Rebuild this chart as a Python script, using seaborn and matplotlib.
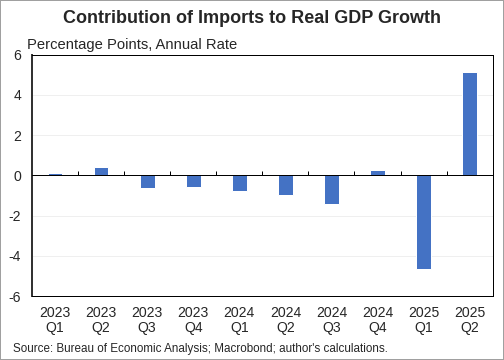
import matplotlib
matplotlib.use("Agg")
import matplotlib.pyplot as plt
import seaborn as sns
import pandas as pd
from matplotlib.patches import Rectangle

quarters = ["2023\nQ1", "2023\nQ2", "2023\nQ3", "2023\nQ4", "2024\nQ1",
            "2024\nQ2", "2024\nQ3", "2024\nQ4", "2025\nQ1", "2025\nQ2"]
values = [0.10, 0.40, -0.62, -0.57, -0.80, -1.00, -1.44, 0.25, -4.67, 5.13]
yticks = [-6, -4, -2, 0, 2, 4, 6]

df = pd.DataFrame({"quarter": quarters, "value": values})

sns.set_style("white")
plt.rcParams["font.family"] = ["Liberation Sans", "DejaVu Sans"]

fig = plt.figure(figsize=(7, 5), dpi=72)
ax = fig.add_axes([32/504, 1-296/360, (492.7-32)/504, (296-54.7)/360])

sns.barplot(data=df, x="quarter", y="value", color="#4472C4", width=0.32,
            saturation=1, ax=ax, zorder=3)

ax.set_ylim(-6, 6)
ax.set_xlim(-0.5, len(quarters) - 0.5)
ax.set_yticks(yticks)
ax.set_yticklabels([str(v) for v in yticks], fontsize=14)
ax.tick_params(axis="y", length=0, pad=11)
ax.tick_params(axis="x", length=0, pad=10, labelsize=14)
for lbl in ax.get_xticklabels():
    lbl.set_linespacing(1.05)
ax.set_xlabel("")
ax.set_ylabel("")

for y in [-4, -2, 2, 4]:
    ax.axhline(y, color="#EBEBEB", lw=0.8, zorder=1)
ax.axhline(0, color="black", lw=1.0, zorder=4)
# small tick marks between categories on zero line
ax.vlines([i + 0.5 for i in range(len(quarters) - 1)], 0, 0.22,
          color="black", lw=1, zorder=4)

for side in ["top", "right", "bottom"]:
    ax.spines[side].set_color("black")
    ax.spines[side].set_linewidth(1)
ax.spines["left"].set_color("#333333")
ax.spines["left"].set_linewidth(2)

fig.text(0.5, 1 - 18.5/360, "Contribution of Imports to Real GDP Growth",
         ha="center", va="center", fontsize=18, fontweight="bold")
fig.text(27/504, 1 - 44.5/360, "Percentage Points, Annual Rate",
         ha="left", va="center", fontsize=14.7)
fig.text(13/504, 1 - 349/360,
         "Source: Bureau of Economic Analysis; Macrobond; author's calculations.",
         ha="left", va="center", fontsize=11.6)

fig.patches.append(Rectangle((0, 0), 1, 1, transform=fig.transFigure,
                             fill=False, edgecolor="#A0A0A0", lw=2))

fig.savefig("out.png", dpi=72)
